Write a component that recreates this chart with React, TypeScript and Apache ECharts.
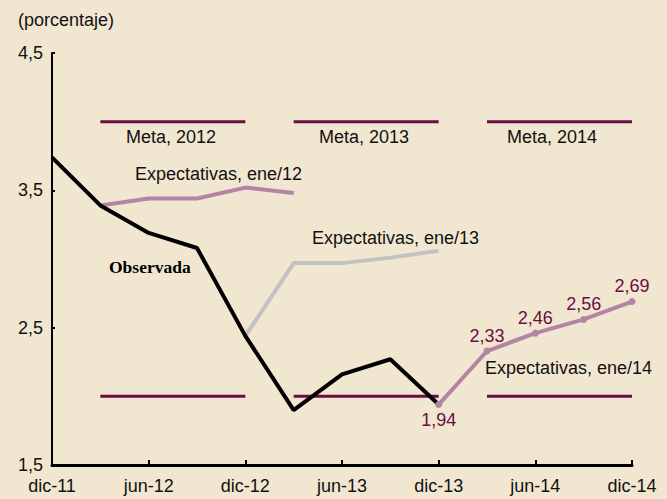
import React, { useEffect, useRef } from "react";
import * as echarts from "echarts";

const categories = ["dic-11", "mar-12", "jun-12", "sep-12", "dic-12", "mar-13", "jun-13", "sep-13", "dic-13", "mar-14", "jun-14", "sep-14", "dic-14"];
const observada = [3.74, 3.39, 3.19, 3.08, 2.44, 1.9, 2.16, 2.27, 1.94, null, null, null, null];
const expEne12 = [null, 3.39, 3.44, 3.44, 3.52, 3.48, null, null, null, null, null, null, null];
const expEne13 = [null, null, null, null, 2.44, 2.97, 2.97, 3.01, 3.06, null, null, null, null];
const expEne14 = [null, null, null, null, null, null, null, null, 1.94, 2.33, 2.46, 2.56, 2.69];
const metaLabels = ["Meta, 2012", "Meta, 2013", "Meta, 2014"];
const metaStart = ["mar-12", "mar-13", "mar-14"];
const metaEnd = ["dic-12", "dic-13", "dic-14"];
const metaUpper = [4.0, 4.0, 4.0];
const metaLower = [2.0, 2.0, 2.0];
const yTicks = [1.5, 2.5, 3.5, 4.5];

const BG = "#f1e6cf";
const MAROON = "#6b0f42";
const PINK = "#b384a6";
const GRAY = "#c2c2c2";
const FONT = "Liberation Sans, Arial, sans-serif";

const fmt = (v: number) => v.toFixed(2).replace(".", ",");

export default function App() {
  const ref = useRef<HTMLDivElement>(null);
  useEffect(() => {
    if (!ref.current) return;
    const chart = echarts.init(ref.current, null, { renderer: "svg" });

    const segment = (start: string, end: string, value: number) => {
      const s = categories.indexOf(start);
      const e = categories.indexOf(end);
      return categories.map((_, i) => (i >= s && i <= e ? value : null));
    };

    const metaSeries: any[] = [];
    metaLabels.forEach((name, k) => {
      [metaUpper[k], metaLower[k]].forEach((val) => {
        metaSeries.push({
          type: "line",
          name,
          data: segment(metaStart[k], metaEnd[k], val),
          showSymbol: false,
          symbol: "none",
          lineStyle: { color: MAROON, width: 3 },
          z: 1,
          silent: true,
        });
      });
    });

    const textStyle = (extra: any = {}) => ({
      fill: "#111",
      font: `18px ${FONT}`,
      ...extra,
    });

    const option: any = {
      animation: false,
      backgroundColor: BG,
      grid: { left: 52, right: 35, top: 53, bottom: 34, containLabel: false },
      xAxis: {
        type: "category",
        data: categories,
        boundaryGap: false,
        axisLine: { lineStyle: { color: "#000", width: 3 } },
        axisTick: { show: true, inside: true, length: 5, interval: 1, lineStyle: { color: "#000", width: 2 } },
        axisLabel: { interval: 1, color: "#111", fontSize: 18, fontFamily: FONT, margin: 12 },
        splitLine: { show: false },
      },
      yAxis: {
        type: "value",
        min: 1.5,
        max: 4.5,
        axisLine: { show: true, lineStyle: { color: "#000", width: 2 } },
        axisTick: { show: true, inside: true, length: 3, customValues: yTicks, lineStyle: { color: "#000", width: 2 } },
        axisLabel: {
          customValues: yTicks,
          formatter: (v: number) => v.toFixed(1).replace(".", ","),
          color: "#111",
          fontSize: 18,
          fontFamily: FONT,
          margin: 9,
        },
        splitLine: { show: false },
      },
      series: [
        ...metaSeries,
        {
          type: "line",
          name: "Expectativas, ene/12",
          data: expEne12,
          symbol: "none",
          lineStyle: { color: PINK, width: 4 },
          z: 2,
        },
        {
          type: "line",
          name: "Expectativas, ene/13",
          data: expEne13,
          symbol: "none",
          lineStyle: { color: GRAY, width: 4 },
          z: 2,
        },
        {
          type: "line",
          name: "Observada",
          data: observada,
          symbol: "none",
          lineStyle: { color: "#000", width: 4 },
          z: 3,
        },
        {
          type: "line",
          name: "Expectativas, ene/14",
          data: expEne14.map((v, i) =>
            v === null
              ? null
              : {
                  value: v,
                  label: { position: i === categories.indexOf("dic-13") ? "bottom" : "top" },
                }
          ),
          symbol: "circle",
          symbolSize: 7,
          showSymbol: true,
          itemStyle: { color: PINK },
          lineStyle: { color: PINK, width: 4 },
          label: {
            show: true,
            formatter: (p: any) => fmt(p.value),
            color: MAROON,
            fontSize: 18,
            fontFamily: FONT,
            distance: 3,
          },
          z: 4,
        },
      ],
      graphic: [
        { type: "text", left: 18, top: 11, style: textStyle({ text: "(porcentaje)" }) },
        { type: "text", x: 171, y: 137, style: textStyle({ text: metaLabels[0], align: "center", verticalAlign: "middle" }) },
        { type: "text", x: 364, y: 137, style: textStyle({ text: metaLabels[1], align: "center", verticalAlign: "middle" }) },
        { type: "text", x: 552, y: 137, style: textStyle({ text: metaLabels[2], align: "center", verticalAlign: "middle" }) },
        { type: "text", x: 135, y: 174, style: textStyle({ text: "Expectativas, ene/12", verticalAlign: "middle" }) },
        { type: "text", x: 312, y: 238, style: textStyle({ text: "Expectativas, ene/13", verticalAlign: "middle" }) },
        { type: "text", x: 485, y: 368, style: textStyle({ text: "Expectativas, ene/14", verticalAlign: "middle" }) },
        {
          type: "text",
          x: 109,
          y: 267,
          style: { text: "Observada", fill: "#000", font: "bold 17.5px 'Liberation Serif', 'Times New Roman', serif", verticalAlign: "middle" },
        },
      ],
    };
    chart.setOption(option);
    return () => chart.dispose();
  }, []);
  return (
    <div
      ref={ref}
      style={{ position: "fixed", left: 0, top: 0, width: 667, height: 499, background: BG }}
    />
  );
}
